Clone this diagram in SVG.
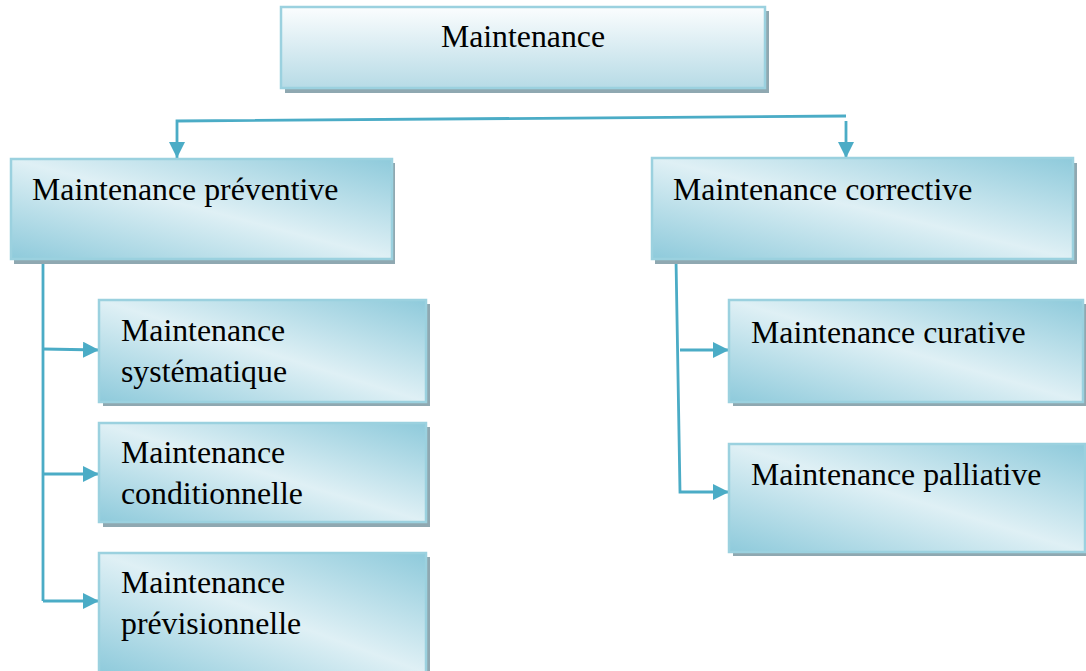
<svg xmlns="http://www.w3.org/2000/svg" width="1086" height="671" viewBox="0 0 1086 671">
  <style>
    .shadow { fill: #8fa8b1; }
    .box { stroke: #9bd1df; stroke-width: 2.5; }
    .top { fill: url(#gTop); }
    .diag { fill: url(#gDiag); }
    .lbl { font-family: "Liberation Serif", "Times New Roman", serif; font-size: 31.8px; fill: #000; }
    .conn { fill: none; stroke: #4bacc6; stroke-width: 2.8; }
  </style>
  <defs>
    <linearGradient id="gTop" x1="0" y1="0" x2="0" y2="1">
      <stop offset="0" stop-color="#fbfdfe"/>
      <stop offset="1" stop-color="#b7dbe6"/>
    </linearGradient>
    <linearGradient id="gDiag" x1="0" y1="1" x2="1" y2="0">
      <stop offset="0" stop-color="#8ecadb"/>
      <stop offset="0.5" stop-color="#dff0f5"/>
      <stop offset="1" stop-color="#8ecadb"/>
    </linearGradient>
    <marker id="arr" markerUnits="userSpaceOnUse" markerWidth="16" markerHeight="16" refX="16" refY="8" orient="auto">
      <path d="M0,0 L16,8 L0,16 Z" fill="#4bacc6"/>
    </marker>
  </defs>

  <g id="connectors">
    <polyline class="conn" points="846,116 177,121 177,158" marker-end="url(#arr)"/>
    <line class="conn" x1="846" y1="121" x2="846" y2="158" marker-end="url(#arr)"/>
    <line class="conn" x1="43" y1="259" x2="43" y2="601"/>
    <line class="conn" x1="43" y1="349" x2="99" y2="350" marker-end="url(#arr)"/>
    <line class="conn" x1="43" y1="474" x2="99" y2="474" marker-end="url(#arr)"/>
    <line class="conn" x1="43" y1="601" x2="99" y2="601" marker-end="url(#arr)"/>
    <polyline class="conn" points="676,259 680,492 729,492" marker-end="url(#arr)"/>
    <line class="conn" x1="680" y1="350" x2="729" y2="350" marker-end="url(#arr)"/>
  </g>

  <g id="node-maintenance">
    <rect class="shadow" x="285" y="11" width="484" height="82"/>
    <rect class="box top" x="281" y="7" width="484" height="81"/>
    <text class="lbl" x="523" y="47" text-anchor="middle">Maintenance</text>
  </g>

  <g id="node-preventive">
    <rect class="shadow" x="14" y="163" width="381" height="101"/>
    <rect class="box diag" x="11" y="159" width="381" height="100"/>
    <text class="lbl" x="32" y="200">Maintenance préventive</text>
  </g>

  <g id="node-corrective">
    <rect class="shadow" x="655" y="163" width="422" height="101"/>
    <rect class="box diag" x="652" y="158" width="421" height="101"/>
    <text class="lbl" x="673" y="200">Maintenance corrective</text>
  </g>

  <g id="node-systematique">
    <rect class="shadow" x="103" y="304" width="327" height="102"/>
    <rect class="box diag" x="99" y="300" width="327" height="102"/>
    <text class="lbl" x="121" y="341">Maintenance</text>
    <text class="lbl" x="121" y="382">systématique</text>
  </g>

  <g id="node-conditionnelle">
    <rect class="shadow" x="103" y="427" width="327" height="100"/>
    <rect class="box diag" x="99" y="423" width="327" height="99"/>
    <text class="lbl" x="121" y="463">Maintenance</text>
    <text class="lbl" x="121" y="504">conditionnelle</text>
  </g>

  <g id="node-previsionnelle">
    <rect class="shadow" x="103" y="557" width="327" height="120"/>
    <rect class="box diag" x="99" y="553" width="327" height="120"/>
    <text class="lbl" x="121" y="593">Maintenance</text>
    <text class="lbl" x="121" y="634">prévisionnelle</text>
  </g>

  <g id="node-curative">
    <rect class="shadow" x="733" y="304" width="356" height="102"/>
    <rect class="box diag" x="729" y="300" width="354" height="102"/>
    <text class="lbl" x="751" y="343">Maintenance curative</text>
  </g>

  <g id="node-palliative">
    <rect class="shadow" x="733" y="448" width="356" height="108"/>
    <rect class="box diag" x="729" y="444" width="356" height="108"/>
    <text class="lbl" x="751" y="485">Maintenance palliative</text>
  </g>
</svg>
